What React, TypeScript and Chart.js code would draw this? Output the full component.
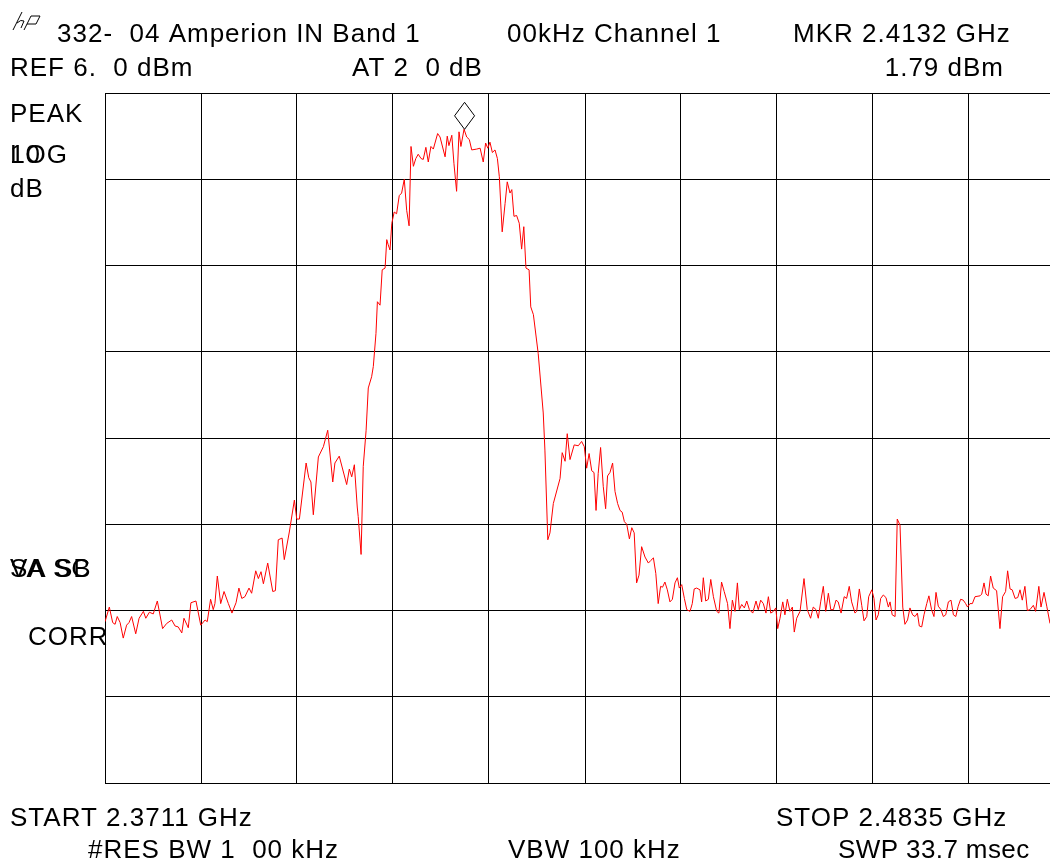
import React, { useEffect, useRef } from "react";
import { Chart, registerables } from "chart.js";

Chart.register(...registerables);

// Sweep settings (from the annotation)
const START_MHZ = 2371.1;
const STOP_MHZ = 2483.5;
const SWEEP_POINTS = 400;
const VISIBLE_POINTS = 393.75;
const REF_DBM = 6;
const DB_PER_DIV = 10;
const Y_DIVS = 8;
const X_DIVS = 10;
const MARKER_MHZ = 2413.2;
const MARKER_DBM = 1.79;

// Trace: sweep point index and level (dBm)
const traceIdx = [
  0, 1.8, 3.2, 4.2, 5.1, 6.3, 7.6, 9.0, 10.0, 11.1, 12.8, 14.2, 16.0, 17.0, 18.5, 20.1, 21.8, 24.0, 25.7, 27.8,
  29.2, 30.5, 32.0, 32.9, 34.7, 35.8, 37.9, 39.9, 41.7, 42.6, 44.0, 45.1, 45.8, 46.8, 48.2, 49.6, 51.4, 52.9, 54.6, 55.8,
  57.0, 58.3, 60.0, 61.1, 62.8, 63.9, 65.0, 66.0, 67.8, 69.9, 71.0, 72.2, 73.8, 74.7, 76.8, 78.9, 79.9, 81.0, 83.8, 84.9,
  85.8, 86.8, 88.9, 91.0, 92.8, 94.9, 95.8, 97.6, 100.7, 101.8, 102.8, 103.9, 105.1, 105.5, 106.7, 107.6, 108.8, 109.7, 111.1, 111.8,
  112.9, 113.5, 114.6, 115.5, 116.7, 117.4, 118.0, 118.75, 119.5, 120.5, 121.5, 122.6, 123.6, 124.7, 125.7, 126.7, 127.5, 128.5, 129.5, 130.5,
  131.7, 132.6, 133.7, 134.7, 135.8, 136.8, 138.6, 139.6, 141.7, 142.6, 143.3, 144.5, 145.4, 146.5, 147.5, 148.3, 149.6, 150.7, 151.8, 152.8,
  154.9, 156.3, 157.6, 158.6, 159.5, 160.4, 161.4, 162.5, 163.5, 164.3, 165.5, 166.7, 167.6, 168.75, 169.5, 170.4, 171.5, 172.6, 173.6, 174.5,
  175.4, 176.7, 177.4, 178.5, 180.5, 182.6, 183.3, 184.5, 185.4, 186.8, 189.6, 190.5, 191.7, 192.6, 193.75, 195.5, 197.2, 198.6, 199.7, 200.7,
  201.7, 202.8, 203.75, 204.6, 205.5, 206.5, 207.6, 208.6, 209.4, 210.4, 211.5, 212.5, 213.6, 214.6, 215.5, 216.4, 217.4, 218.5, 219.5, 220.5,
  221.5, 222.5, 223.6, 225.0, 226.4, 227.4, 228.5, 229.5, 230.5, 231.5, 232.3, 233.3, 234.3, 235.4, 236.4, 237.5, 238.5, 239.3, 240.3, 241.4,
  242.4, 243.75, 244.7, 245.5, 246.5, 247.9, 248.6, 249.3, 250.3, 251.4, 252.4, 253.5, 254.9, 255.8, 256.9, 258.0, 259.4, 260.4, 261.4, 262.5,
  263.5, 264.3, 265.3, 266.4, 267.4, 268.5, 269.9, 271.25, 272.2, 273.2, 274.3, 275.4, 276.4, 277.4, 278.5, 279.5, 280.3, 281.25, 282.4, 283.3,
  284.3, 285.4, 286.4, 287.2, 288.2, 289.6, 291.25, 292.6, 294.0, 295.1, 296.25, 297.2, 298.2, 299.3, 300.3, 301.4, 302.4, 303.5, 304.6, 305.5,
  306.7, 308.0, 309.0, 310.1, 311.1, 312.5, 313.2, 314.3, 315.3, 316.25, 317.4, 318.2, 319.5, 320.4, 321.25, 322.2, 323.2, 324.3, 325.4, 326.4,
  327.1, 328.0, 329.2, 330.1, 331.25, 332.4, 333.3, 334.4, 335.4, 336.5, 337.5, 338.5, 339.3, 340.3, 341.25, 342.4, 343.3, 344.4, 345.4, 346.25,
  347.2, 348.3, 349.3, 350.3, 351.4, 352.5, 353.5, 354.5, 355.5, 356.5, 357.6, 358.6, 359.4, 360.4, 361.4, 362.5, 364.6, 365.3, 366.25, 367.1,
  368.0, 369.0, 370.1, 371.5, 372.9, 374.0, 375.25, 376.1, 377.1, 378.0, 379.2, 380.3, 381.25, 382.2, 383.3, 384.3, 385.4, 386.8, 387.75, 389.1,
  390.0, 391.25, 392.4, 393.75,
];

const traceDbm = [
  -55.3, -53.6, -55.4, -55.6, -54.7, -55.4, -57.2, -55.7, -55.4, -54.7, -56.7, -54.9, -54.1, -54.9, -54.2, -54.4, -52.9, -56.1, -55.5, -55.1,
  -55.8, -55.9, -56.6, -54.9, -56.0, -53.1, -52.9, -55.7, -55.1, -55.3, -52.7, -53.9, -53.2, -50.0, -53.2, -51.8, -53.2, -54.3, -53.1, -51.4,
  -52.6, -52.4, -51.4, -52.0, -49.4, -50.3, -49.5, -50.9, -48.5, -51.8, -51.7, -45.8, -45.6, -48.1, -44.9, -41.2, -43.4, -43.4, -36.9, -38.6,
  -39.1, -42.9, -36.2, -35.0, -33.1, -39.1, -36.9, -36.1, -39.4, -37.6, -38.5, -37.1, -42.0, -43.1, -47.5, -37.3, -33.1, -28.2, -26.9, -25.7,
  -21.9, -18.2, -18.6, -14.5, -14.3, -11.0, -11.6, -12.2, -9.1, -7.8, -8.0, -5.9, -5.6, -4.0, -7.6, -9.4, -0.2, -2.5, -1.6, -1.1,
  -1.6, -1.7, -0.3, -2.0, -0.2, -0.5, 1.3, 0.9, -1.4, 1.0, -0.1, 1.1, -2.2, -5.4, 1.5, -0.2, 1.8, 0.9, 0.6, -0.6,
  -0.5, -0.4, -2.0, 0.2, -0.4, 0.3, -0.9, -0.6, -1.6, -3.7, -10.1, -6.8, -4.3, -5.6, -5.2, -8.3, -8.2, -9.1, -12.1, -9.5,
  -14.3, -14.5, -18.8, -19.7, -24.2, -31.1, -35.4, -45.8, -45.0, -41.6, -38.7, -35.7, -36.7, -33.5, -36.5, -34.8, -34.9, -34.4, -35.0, -37.5,
  -35.8, -37.8, -38.0, -42.4, -38.1, -35.1, -39.6, -42.2, -38.4, -38.0, -36.9, -40.2, -41.6, -42.4, -42.6, -43.7, -44.0, -45.7, -44.4, -45.0,
  -50.8, -49.9, -46.6, -47.8, -48.5, -48.2, -47.9, -49.7, -53.2, -51.2, -51.3, -50.7, -51.6, -53.0, -52.7, -50.8, -50.2, -51.4, -51.0, -52.6,
  -53.9, -54.1, -53.2, -51.5, -51.4, -51.6, -53.0, -50.2, -52.9, -52.7, -50.4, -52.4, -54.1, -54.3, -50.7, -51.8, -53.2, -56.1, -52.8, -54.1,
  -50.8, -53.9, -53.3, -53.7, -52.9, -53.9, -54.3, -52.9, -53.9, -52.8, -53.2, -54.3, -52.4, -54.3, -54.1, -53.7, -56.1, -54.9, -53.0, -54.5,
  -52.7, -54.1, -53.6, -56.5, -54.9, -54.1, -50.3, -53.9, -54.9, -53.6, -53.9, -54.9, -53.0, -51.2, -54.1, -52.0, -53.9, -53.9, -52.8, -53.0,
  -54.3, -52.4, -52.6, -51.2, -53.0, -54.3, -54.1, -51.5, -53.4, -55.2, -54.7, -52.4, -51.6, -52.6, -55.1, -54.5, -52.6, -52.2, -52.5, -53.6,
  -53.0, -54.5, -54.7, -43.4, -44.1, -53.6, -55.6, -55.1, -53.7, -54.5, -54.7, -54.3, -55.8, -55.9, -54.5, -53.2, -52.3, -53.9, -54.7, -51.9,
  -53.5, -53.9, -54.7, -54.5, -53.0, -52.8, -54.5, -54.7, -53.5, -52.7, -52.8, -53.2, -53.6, -53.2, -53.2, -52.4, -52.3, -52.1, -50.8, -52.1,
  -52.3, -50.0, -51.4, -51.7, -56.1, -52.4, -51.8, -49.4, -51.5, -51.6, -52.6, -52.5, -51.6, -52.8, -51.2, -54.0, -53.9, -53.4, -54.1, -51.2,
  -53.6, -51.9, -53.5, -55.5,
];

// Annotation text
const headerLine1 = ["332-  04 Amperion IN Band 1", "00kHz Channel 1", "MKR 2.4132 GHz"];
const headerLine2 = ["REF 6.  0 dBm", "AT 2  0 dB", "1.79 dBm"];
const sideLabels = ["PEAK", "LOG", "10", "dB", "SA SB", "VA SC", "CORR"];
const footerLine1 = ["START 2.3711 GHz", "STOP 2.4835 GHz"];
const footerLine2 = ["#RES BW 1  00 kHz", "VBW 100 kHz", "SWP 33.7 msec"];

const SPAN = STOP_MHZ - START_MHZ;
const toMHz = (idx: number) => START_MHZ + (idx * SPAN) / SWEEP_POINTS;

const FONT = '26px "Liberation Sans", Arial, Helvetica, sans-serif';

const annotationPlugin = {
  id: "annotations",
  afterDraw(chart: any) {
    const ctx = chart.ctx as CanvasRenderingContext2D;
    const xs = chart.scales.x;
    const ys = chart.scales.y;
    ctx.save();
    // marker diamond
    const mx = xs.getPixelForValue(MARKER_MHZ);
    const my = ys.getPixelForValue(MARKER_DBM);
    ctx.strokeStyle = "#000";
    ctx.lineWidth = 1;
    ctx.beginPath();
    ctx.moveTo(mx, my);
    ctx.lineTo(mx + 10, my - 13.5);
    ctx.lineTo(mx, my - 27);
    ctx.lineTo(mx - 10, my - 13.5);
    ctx.closePath();
    ctx.stroke();

    // hp logo
    ctx.lineWidth = 1;
    ctx.beginPath();
    ctx.moveTo(13, 30); ctx.lineTo(22, 12);
    ctx.moveTo(17, 23); ctx.quadraticCurveTo(21, 19, 24, 21); ctx.lineTo(21, 28);
    ctx.moveTo(24, 30); ctx.lineTo(31, 16);
    ctx.moveTo(27, 24); ctx.lineTo(36, 24); ctx.lineTo(40, 16); ctx.lineTo(31, 16);
    ctx.stroke();

    ctx.fillStyle = "#000";
    ctx.font = FONT;
    (ctx as any).letterSpacing = "1px";
    ctx.textBaseline = "alphabetic";
    ctx.textAlign = "left";
    ctx.fillText(headerLine1[0], 57, 42);
    ctx.fillText(headerLine1[1], 507, 42);
    ctx.fillText(headerLine1[2], 793, 42);
    ctx.fillText(headerLine2[0], 10, 76);
    ctx.fillText(headerLine2[1], 352, 76);
    ctx.fillText(sideLabels[0], 10, 122);
    ctx.fillText(sideLabels[1], 10, 163);
    ctx.fillText(sideLabels[2], 10, 163);
    ctx.fillText(sideLabels[3], 10, 197);
    ctx.fillText(sideLabels[4], 10, 577);
    ctx.fillText(sideLabels[5], 10, 577);
    ctx.fillText(sideLabels[6], 28, 645);
    ctx.fillText(footerLine1[0], 10, 826);
    ctx.fillText(footerLine1[1], 776, 826);
    ctx.fillText(footerLine2[0], 88, 858);
    ctx.fillText(footerLine2[1], 508, 858);
    (ctx as any).letterSpacing = "0.4px";
    ctx.fillText(footerLine2[2], 838, 858);
    (ctx as any).letterSpacing = "1px";
    ctx.textAlign = "right";
    ctx.fillText(headerLine2[2], 1004, 76);
    ctx.restore();
  },
};

export default function App() {
  const canvasRef = useRef<HTMLCanvasElement | null>(null);

  useEffect(() => {
    if (!canvasRef.current) return;
    const points = traceIdx.map((p, i) => ({ x: toMHz(p), y: traceDbm[i] }));
    const xTicks = Array.from({ length: X_DIVS }, (_, k) => toMHz((k * SWEEP_POINTS) / X_DIVS));
    const yTicks = Array.from({ length: Y_DIVS + 1 }, (_, k) => REF_DBM - DB_PER_DIV * Y_DIVS + k * DB_PER_DIV);
    const chart = new Chart(canvasRef.current, {
      type: "line",
      data: {
        datasets: [
          {
            data: points,
            borderColor: "#ff0000",
            borderWidth: 1,
            pointRadius: 0,
            tension: 0,
            fill: false,
          },
        ],
      },
      options: {
        responsive: false,
        animation: false,
        devicePixelRatio: 1,
        layout: { padding: { left: 105, top: 93, right: 0, bottom: 81 } },
        plugins: { legend: { display: false }, tooltip: { enabled: false } },
        scales: {
          x: {
            type: "linear",
            min: START_MHZ,
            max: toMHz(VISIBLE_POINTS),
            afterBuildTicks: (s: any) => {
              s.ticks = xTicks.map((v) => ({ value: v }));
            },
            ticks: { display: false },
            grid: { color: "#000", lineWidth: 1, drawTicks: false },
            border: { display: true, color: "#000", width: 1 },
          },
          y: {
            type: "linear",
            min: REF_DBM - DB_PER_DIV * Y_DIVS,
            max: REF_DBM,
            afterBuildTicks: (s: any) => {
              s.ticks = yTicks.map((v) => ({ value: v }));
            },
            ticks: { display: false },
            grid: { color: "#000", lineWidth: 1, drawTicks: false },
            border: { display: true, color: "#000", width: 1 },
          },
        },
      },
      plugins: [annotationPlugin],
    });
    return () => chart.destroy();
  }, []);

  return (
    <div style={{ position: "fixed", left: 0, top: 0, width: 1050, height: 864, background: "#fff" }}>
      <canvas ref={canvasRef} width={1050} height={864} style={{ display: "block" }} />
    </div>
  );
}
